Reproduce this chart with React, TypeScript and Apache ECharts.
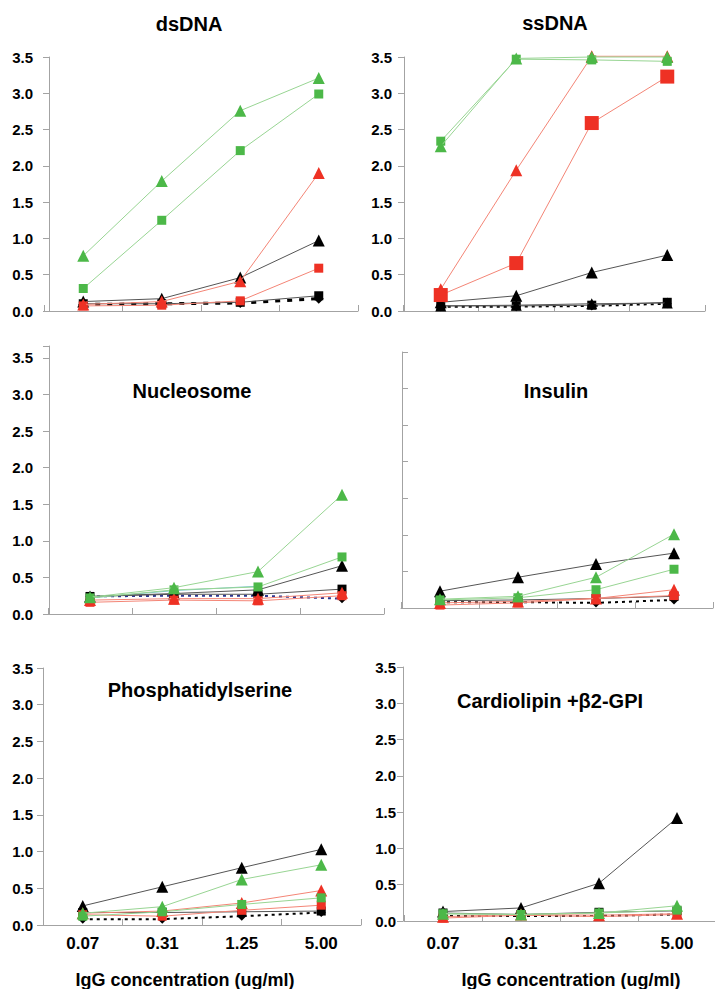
import React, { useEffect, useRef } from 'react';
import * as echarts from 'echarts';

const concentrations = ['0.07', '0.31', '1.25', '5.00'];
const yTickStep = 0.5;

// dsDNA
const dsGreenTri = [0.76, 1.79, 2.76, 3.21];
const dsGreenSq = [0.31, 1.25, 2.21, 2.99];
const dsRedTri = [0.09, 0.13, 0.41, 1.9];
const dsRedSq = [0.07, 0.08, 0.14, 0.59];
const dsBlackTri = [0.13, 0.17, 0.46, 0.97];
const dsBlackSq = [0.1, 0.1, 0.12, 0.21];
const dsControl = [0.09, 0.1, 0.11, 0.17];

// ssDNA
const ssGreenTri = [2.27, 3.48, 3.5, 3.5];
const ssGreenSq = [2.34, 3.47, 3.46, 3.44];
const ssRedTri = [0.3, 1.94, 3.51, 3.51];
const ssRedSq = [0.22, 0.66, 2.59, 3.23];
const ssBlackTri = [0.12, 0.21, 0.53, 0.77];
const ssBlackTri2 = [0.07, 0.08, 0.1, 0.11];
const ssBlackSq = [0.07, 0.07, 0.08, 0.12];
const ssControl = [0.06, 0.06, 0.07, 0.1];

// Nucleosome
const nuGreenTri = [0.23, 0.36, 0.58, 1.63];
const nuGreenSq = [0.22, 0.33, 0.37, 0.78];
const nuTeal = [0.22, 0.32, 0.38, null];
const nuRedTri = [0.19, 0.21, 0.21, 0.29];
const nuRedSq = [0.16, 0.19, 0.18, 0.25];
const nuBlackTri = [0.24, 0.28, 0.33, 0.66];
const nuBlackSq = [0.24, 0.27, 0.27, 0.34];
const nuControl = [0.24, 0.25, 0.25, 0.21];

// Insulin
const inGreenTri = [0.12, 0.16, 0.42, 1.01];
const inGreenSq = [0.11, 0.14, 0.25, 0.53];
const inRedTri = [0.07, 0.09, 0.13, 0.25];
const inRedSq = [0.04, 0.07, 0.13, 0.17];
const inBlackTri = [0.23, 0.42, 0.6, 0.75];
const inBlackSq = [0.1, 0.11, 0.13, 0.16];
const inControl = [0.08, 0.08, 0.07, 0.11];

// Phosphatidylserine
const psGreenTri = [0.16, 0.25, 0.62, 0.82];
const psGreenSq = [0.12, 0.18, 0.28, 0.37];
const psRedTri = [0.16, 0.19, 0.3, 0.47];
const psRedSq = [0.14, 0.12, 0.2, 0.27];
const psBlackTri = [0.26, 0.52, 0.78, 1.03];
const psBlackSq = [0.17, 0.17, 0.18, 0.19];
const psControl = [0.08, 0.08, 0.12, 0.17];

// Cardiolipin + b2-GPI
const clGreenTri = [0.1, 0.09, 0.11, 0.21];
const clGreenSq = [0.1, 0.09, 0.11, 0.15];
const clRedTri = [0.06, 0.09, 0.08, 0.1];
const clRedSq = [0.04, 0.08, 0.06, 0.09];
const clBlackTri = [0.13, 0.18, 0.52, 1.42];
const clBlackSq = [0.11, 0.09, 0.12, 0.14];
const clControl = [0.07, 0.07, 0.07, 0.09];

const xAxisName = 'IgG concentration (ug/ml)';

type Kind =
  | 'greenTri' | 'greenSq' | 'redTri' | 'redSq' | 'redSqBig'
  | 'blackTri' | 'blackTriSmall' | 'blackSq' | 'teal'
  | 'control' | 'controlThick' | 'controlNavy';

const kindStyles: Record<Kind, any> = {
  controlThick: { symbol: 'diamond', size: 10, color: '#000', line: '#000', width: 3, type: [5, 7], z: 2 },
  control: { symbol: 'diamond', size: 9, color: '#000', line: '#000', width: 2, type: [3, 4], z: 2 },
  controlNavy: { symbol: 'diamond', size: 9, color: '#000', line: '#2b3590', width: 2, type: [3, 4], z: 2 },
  blackSq: { symbol: 'rect', size: 9, color: '#000', line: '#555', width: 1, type: 'solid', z: 3 },
  blackTri: { symbol: 'triangle', size: 12, color: '#000', line: '#555', width: 1, type: 'solid', z: 4 },
  blackTriSmall: { symbol: 'triangle', size: 11, color: '#000', line: '#555', width: 1, type: 'solid', z: 4 },
  teal: { symbol: 'none', size: 0, color: '#6fc0c4', line: '#7cc6c9', width: 1, type: 'solid', z: 4 },
  redSq: { symbol: 'rect', size: 9, color: '#ee3124', line: '#f48576', width: 1, type: 'solid', z: 5 },
  redSqBig: { symbol: 'rect', size: 14, color: '#ee3124', line: '#f48576', width: 1, type: 'solid', z: 5 },
  redTri: { symbol: 'triangle', size: 12, color: '#ee3124', line: '#f48576', width: 1, type: 'solid', z: 6 },
  greenSq: { symbol: 'rect', size: 9, color: '#4cb848', line: '#98d593', width: 1, type: 'solid', z: 7 },
  greenTri: { symbol: 'triangle', size: 12, color: '#4cb848', line: '#98d593', width: 1, type: 'solid', z: 8 },
};

interface Panel {
  title: string;
  titleX: number;
  titleY: number;
  bandStart: number;
  bandEnd: number;
  yAxisX: number;
  top: number;
  bottom: number;
  yMax: number;
  showYLabels: boolean;
  yTickInside: boolean;
  yLabelMargin: number;
  showXLabels: boolean;
  xLabelMargin: number;
  series: { kind: Kind; data: (number | null)[] }[];
}

const panels: Panel[] = [
  {
    title: 'dsDNA', titleX: 189, titleY: 24,
    bandStart: 44, bandEnd: 358, yAxisX: 49, top: 57, bottom: 311, yMax: 3.5,
    showYLabels: true, yTickInside: false, yLabelMargin: 16, showXLabels: false, xLabelMargin: 10,
    series: [
      { kind: 'controlThick', data: dsControl },
      { kind: 'blackSq', data: dsBlackSq },
      { kind: 'blackTri', data: dsBlackTri },
      { kind: 'redSq', data: dsRedSq },
      { kind: 'redTri', data: dsRedTri },
      { kind: 'greenSq', data: dsGreenSq },
      { kind: 'greenTri', data: dsGreenTri },
    ],
  },
  {
    title: 'ssDNA', titleX: 555, titleY: 23,
    bandStart: 403, bandEnd: 705, yAxisX: 404, top: 57, bottom: 311, yMax: 3.5,
    showYLabels: true, yTickInside: false, yLabelMargin: 12, showXLabels: false, xLabelMargin: 10,
    series: [
      { kind: 'control', data: ssControl },
      { kind: 'blackSq', data: ssBlackSq },
      { kind: 'blackTriSmall', data: ssBlackTri2 },
      { kind: 'blackTri', data: ssBlackTri },
      { kind: 'redSqBig', data: ssRedSq },
      { kind: 'redTri', data: ssRedTri },
      { kind: 'greenSq', data: ssGreenSq },
      { kind: 'greenTri', data: ssGreenTri },
    ],
  },
  {
    title: 'Nucleosome', titleX: 192, titleY: 391,
    bandStart: 48, bandEnd: 384, yAxisX: 49, top: 346, bottom: 614, yMax: 3.664,
    showYLabels: true, yTickInside: false, yLabelMargin: 16, showXLabels: false, xLabelMargin: 10,
    series: [
      { kind: 'controlNavy', data: nuControl },
      { kind: 'blackSq', data: nuBlackSq },
      { kind: 'teal', data: nuTeal },
      { kind: 'blackTri', data: nuBlackTri },
      { kind: 'redSq', data: nuRedSq },
      { kind: 'redTri', data: nuRedTri },
      { kind: 'greenSq', data: nuGreenSq },
      { kind: 'greenTri', data: nuGreenTri },
    ],
  },
  {
    title: 'Insulin', titleX: 556, titleY: 391,
    bandStart: 401, bandEnd: 713, yAxisX: 402, top: 352, bottom: 608, yMax: 3.5,
    showYLabels: false, yTickInside: true, yLabelMargin: 12, showXLabels: false, xLabelMargin: 10,
    series: [
      { kind: 'control', data: inControl },
      { kind: 'blackSq', data: inBlackSq },
      { kind: 'redSq', data: inRedSq },
      { kind: 'redTri', data: inRedTri },
      { kind: 'blackTri', data: inBlackTri },
      { kind: 'greenSq', data: inGreenSq },
      { kind: 'greenTri', data: inGreenTri },
    ],
  },
  {
    title: 'Phosphatidylserine', titleX: 200, titleY: 690,
    bandStart: 43, bandEnd: 361, yAxisX: 43, top: 668, bottom: 925, yMax: 3.5,
    showYLabels: true, yTickInside: false, yLabelMargin: 10, showXLabels: true, xLabelMargin: 10,
    series: [
      { kind: 'control', data: psControl },
      { kind: 'blackSq', data: psBlackSq },
      { kind: 'blackTri', data: psBlackTri },
      { kind: 'redSq', data: psRedSq },
      { kind: 'redTri', data: psRedTri },
      { kind: 'greenSq', data: psGreenSq },
      { kind: 'greenTri', data: psGreenTri },
    ],
  },
  {
    title: 'Cardiolipin +\u03B22-GPI', titleX: 550, titleY: 701,
    bandStart: 404, bandEnd: 716, yAxisX: 403, top: 667, bottom: 921, yMax: 3.5,
    showYLabels: true, yTickInside: false, yLabelMargin: 7, showXLabels: true, xLabelMargin: 14,
    series: [
      { kind: 'control', data: clControl },
      { kind: 'blackSq', data: clBlackSq },
      { kind: 'redSq', data: clRedSq },
      { kind: 'redTri', data: clRedTri },
      { kind: 'blackTri', data: clBlackTri },
      { kind: 'greenSq', data: clGreenSq },
      { kind: 'greenTri', data: clGreenTri },
    ],
  },
];

const axisNames = [
  { x: 185, y: 980 },
  { x: 571, y: 980 },
];

const FONT = '"Liberation Sans", Arial, Helvetica, sans-serif';
const AXIS_COLOR = '#a3a3a3';

function buildOption() {
  const grid: any[] = [];
  const xAxis: any[] = [];
  const yAxis: any[] = [];
  const series: any[] = [];
  const graphic: any[] = [];

  panels.forEach((p, i) => {
    grid.push({
      left: p.bandStart,
      top: p.top,
      width: p.bandEnd - p.bandStart,
      height: p.bottom - p.top,
      containLabel: false,
      outerBoundsMode: 'none',
    });
    xAxis.push({
      type: 'category',
      gridIndex: i,
      data: concentrations,
      boundaryGap: true,
      axisLine: { show: true, lineStyle: { color: AXIS_COLOR, width: 1 } },
      axisTick: { show: true, inside: true, length: 6, alignWithLabel: false, lineStyle: { color: AXIS_COLOR } },
      axisLabel: {
        show: p.showXLabels,
        margin: p.xLabelMargin,
        color: '#000',
        fontFamily: FONT,
        fontWeight: 'bold',
        fontSize: 17,
        interval: 0,
      },
      splitLine: { show: false },
    });
    yAxis.push({
      type: 'value',
      gridIndex: i,
      min: 0,
      max: p.yMax,
      interval: yTickStep,
      offset: p.bandStart - p.yAxisX,
      axisLine: { show: true, lineStyle: { color: AXIS_COLOR, width: 1 } },
      axisTick: { show: true, inside: p.yTickInside, length: 6, lineStyle: { color: AXIS_COLOR } },
      axisLabel: {
        show: p.showYLabels,
        margin: p.yLabelMargin,
        color: '#000',
        fontFamily: FONT,
        fontWeight: 'bold',
        fontSize: 15,
        showMaxLabel: true,
        formatter: (v: number) => {
          const k = v / yTickStep;
          return Math.abs(k - Math.round(k)) < 1e-6 ? v.toFixed(1) : '';
        },
      },
      splitLine: { show: false },
    });
    p.series.forEach((s) => {
      const st = kindStyles[s.kind];
      series.push({
        type: 'line',
        xAxisIndex: i,
        yAxisIndex: i,
        data: s.data,
        symbol: st.symbol,
        symbolSize: st.size,
        showSymbol: st.symbol !== 'none',
        clip: false,
        z: st.z,
        silent: true,
        connectNulls: false,
        itemStyle: { color: st.color, borderWidth: 0 },
        lineStyle: { color: st.line, width: st.width, type: st.type },
        emphasis: { disabled: true },
      });
    });
    graphic.push({
      type: 'text',
      x: p.titleX,
      y: p.titleY,
      style: {
        text: p.title,
        fill: '#000',
        font: `bold 20px ${FONT}`,
        textAlign: 'center',
        textVerticalAlign: 'middle',
      },
    });
  });

  axisNames.forEach((a) => {
    graphic.push({
      type: 'text',
      x: a.x,
      y: a.y,
      style: {
        text: xAxisName,
        fill: '#000',
        font: `bold 18px ${FONT}`,
        textAlign: 'center',
        textVerticalAlign: 'middle',
      },
    });
  });

  return {
    animation: false,
    backgroundColor: '#ffffff',
    textStyle: { fontFamily: FONT },
    grid,
    xAxis,
    yAxis,
    series,
    graphic,
  };
}

export default function App() {
  const ref = useRef<HTMLDivElement>(null);
  useEffect(() => {
    if (!ref.current) return;
    const chart = echarts.init(ref.current, undefined, { renderer: 'svg' });
    chart.setOption(buildOption());
    return () => {
      chart.dispose();
    };
  }, []);
  return (
    <div
      ref={ref}
      style={{ position: 'absolute', left: 0, top: 0, width: 715, height: 989, background: '#fff' }}
    />
  );
}
